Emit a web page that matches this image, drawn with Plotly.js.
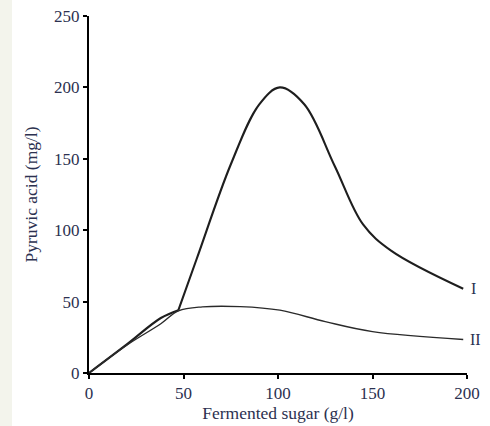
<!DOCTYPE html>
<html>
<head>
<meta charset="utf-8">
<script src="https://cdn.plot.ly/plotly-3.0.1.min.js"></script>
<style>
html,body{margin:0;padding:0;}
body{background:linear-gradient(to right,#f3f4ec 0,#f3f4ec 12px,#ffffff 12px);}
#chart{width:490px;height:426px;}
</style>
</head>
<body>
<div id="chart"></div>
<script>
// Curve I (sharp corner at ~47 g/l, index cornerI)
const sugarI = [0, 20, 38, 47.3, 57, 75, 90, 101, 114, 130, 145, 160, 198];
const pyruvicI = [0, 20, 38.5, 44, 80, 146, 188, 200, 188, 145, 104, 85.5, 59];
const cornerI = 3;
// Curve II
const sugarII = [0, 20, 38, 47.3, 60, 80, 101, 125, 150, 198];
const pyruvicII = [0, 19.5, 34.5, 43.5, 46.3, 46.5, 44, 36, 29, 23.5];
const curveLabels = ['I', 'II'];
const xTicks = [0, 50, 100, 150, 200];
const yTicks = [0, 50, 100, 150, 200, 250];

const serif = 'Liberation Serif, Times New Roman, serif';
const textCol = '#2c3150';
const lineI = {color: '#1e1e1e', width: 2.1, shape: 'spline', smoothing: 1};

const traces = [
  {x: sugarI.slice(0, cornerI + 1), y: pyruvicI.slice(0, cornerI + 1), mode: 'lines', line: lineI, hoverinfo: 'skip'},
  {x: sugarI.slice(cornerI), y: pyruvicI.slice(cornerI), mode: 'lines', line: lineI, hoverinfo: 'skip'},
  {x: sugarII, y: pyruvicII, mode: 'lines', line: {color: '#2a2a2a', width: 1.4, shape: 'spline', smoothing: 1}, hoverinfo: 'skip'}
];

const layout = {
  width: 490, height: 426,
  margin: {l: 89, r: 23, t: 15.5, b: 53},
  paper_bgcolor: 'rgba(0,0,0,0)',
  plot_bgcolor: 'rgba(0,0,0,0)',
  showlegend: false,
  font: {family: serif, color: textCol, size: 17},
  xaxis: {
    range: [0, 200], tickvals: xTicks, ticktext: xTicks.map(String),
    showgrid: false, zeroline: false, showline: true, linecolor: '#000', linewidth: 2,
    ticks: 'outside', ticklen: 4, tickwidth: 2, tickcolor: '#000',
    tickfont: {family: serif, size: 17, color: textCol},
    title: {text: 'Fermented sugar (g/l)', font: {family: serif, size: 17.5, color: textCol}, standoff: 4},
    fixedrange: true
  },
  yaxis: {
    range: [0, 250], tickvals: yTicks, ticktext: yTicks.map(String),
    showgrid: false, zeroline: false, showline: true, linecolor: '#000', linewidth: 2,
    ticks: 'outside', ticklen: 4, tickwidth: 2, tickcolor: '#000',
    tickfont: {family: serif, size: 17, color: textCol},
    title: {text: 'Pyruvic acid (mg/l)', font: {family: serif, size: 17.5, color: textCol}, standoff: 12},
    fixedrange: true
  },
  annotations: [
    {x: sugarI[sugarI.length-1], y: pyruvicI[pyruvicI.length-1], text: curveLabels[0], showarrow: false, xanchor: 'left', xshift: 6, font: {family: serif, size: 16, color: textCol}},
    {x: sugarII[sugarII.length-1], y: pyruvicII[pyruvicII.length-1], text: curveLabels[1], showarrow: false, xanchor: 'left', xshift: 5, font: {family: serif, size: 16, color: textCol}}
  ]
};

Plotly.newPlot('chart', traces, layout, {displayModeBar: false, staticPlot: true});
</script>
</body>
</html>
